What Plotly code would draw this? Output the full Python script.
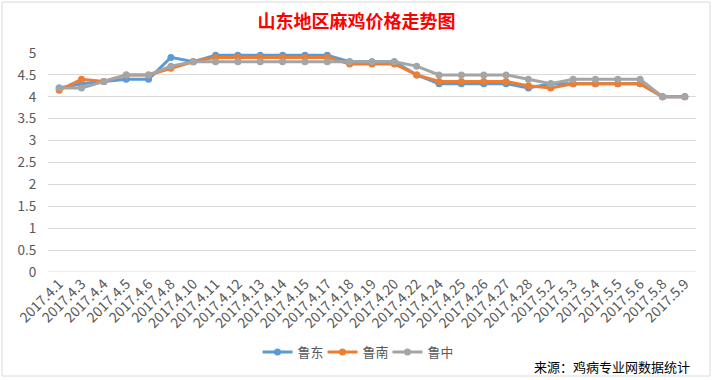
import plotly.graph_objects as go

dates = ["2017.4.1", "2017.4.3", "2017.4.4", "2017.4.5", "2017.4.6", "2017.4.8",
         "2017.4.10", "2017.4.11", "2017.4.12", "2017.4.13", "2017.4.14", "2017.4.15",
         "2017.4.17", "2017.4.18", "2017.4.19", "2017.4.20", "2017.4.22", "2017.4.24",
         "2017.4.25", "2017.4.26", "2017.4.27", "2017.4.28", "2017.5.2", "2017.5.3",
         "2017.5.4", "2017.5.5", "2017.5.6", "2017.5.8", "2017.5.9"]

ludong = [4.2, 4.3, 4.35, 4.4, 4.4, 4.9, 4.8, 4.95, 4.95, 4.95, 4.95, 4.95, 4.95,
          4.8, 4.8, 4.8, 4.5, 4.3, 4.3, 4.3, 4.3, 4.2, 4.3, 4.3, 4.3, 4.3, 4.3, 4.0, 4.0]
lunan = [4.15, 4.4, 4.35, 4.5, 4.5, 4.65, 4.8, 4.9, 4.9, 4.9, 4.9, 4.9, 4.9,
         4.75, 4.75, 4.75, 4.5, 4.35, 4.35, 4.35, 4.35, 4.25, 4.2, 4.3, 4.3, 4.3, 4.3, 4.0, 4.0]
luzhong = [4.2, 4.2, 4.35, 4.5, 4.5, 4.7, 4.8, 4.8, 4.8, 4.8, 4.8, 4.8, 4.8,
           4.8, 4.8, 4.8, 4.7, 4.5, 4.5, 4.5, 4.5, 4.4, 4.3, 4.4, 4.4, 4.4, 4.4, 4.0, 4.0]

series = [("鲁东", ludong, "#5B9BD5"), ("鲁南", lunan, "#ED7D31"), ("鲁中", luzhong, "#A5A5A5")]

fig = go.Figure()
for name, vals, color in series:
    fig.add_trace(go.Scatter(
        x=dates, y=vals, name=name, mode="lines+markers",
        line=dict(color=color, width=3),
        marker=dict(color=color, size=7),
        cliponaxis=False,
    ))

L, R, T, B = 48, 17, 53, 108
W, H = 713, 380
pw, ph = W - L - R, H - T - B

def px(x):
    return (x - L) / pw

def py(y):
    return (H - B - y) / ph

fig.update_layout(
    width=W, height=H,
    margin=dict(l=L, r=R, t=T, b=B, pad=0, autoexpand=False),
    paper_bgcolor="white", plot_bgcolor="white",
    font=dict(family="Noto Sans CJK SC, Noto Sans, sans-serif", color="#595959", size=12),
    title=dict(text="<b>山东地区麻鸡价格走势图</b>", x=0.5, xanchor="center",
               y=1 - 22 / H, yanchor="middle",
               font=dict(size=18, color="#FF0000", family="Noto Sans CJK SC")),
    showlegend=True,
    legend=dict(orientation="h", x=px(355), xanchor="center",
                y=py(352), yanchor="middle",
                font=dict(size=13, color="#595959"),
                entrywidth=20, entrywidthmode="pixels", tracegroupgap=0),
    xaxis=dict(type="category", range=[-0.5, len(dates) - 0.5], tickangle=-45,
               showgrid=False, showline=False,
               ticks="", tickfont=dict(size=14, color="#595959"), fixedrange=True,
               automargin=False),
    yaxis=dict(range=[0, 5], dtick=0.5, showgrid=True, gridcolor="#D9D9D9", gridwidth=1,
               zeroline=False, showline=False, ticks="outside", ticklen=8,
               tickcolor="rgba(0,0,0,0)", tickfont=dict(size=13.5, color="#595959"),
               tickformat="~g", automargin=False, fixedrange=True),
    shapes=[
        dict(type="rect", xref="paper", yref="paper",
             x0=px(2), x1=px(710), y0=py(376), y1=py(2),
             line=dict(color="#D9D9D9", width=1), fillcolor="rgba(0,0,0,0)", layer="below"),
        dict(type="line", xref="paper", yref="y", x0=0, x1=1, y0=0, y1=0,
             line=dict(color="#D9D9D9", width=1), layer="below"),
    ],
    annotations=[
        dict(text="来源：鸡病专业网数据统计", xref="paper", yref="paper",
             x=px(692), y=py(366), xanchor="right", yanchor="middle", showarrow=False,
             font=dict(size=13, color="#000000")),
    ],
)

fig.write_html("out.html", config={"displayModeBar": False},
               post_script="document.body.style.margin='0';")
